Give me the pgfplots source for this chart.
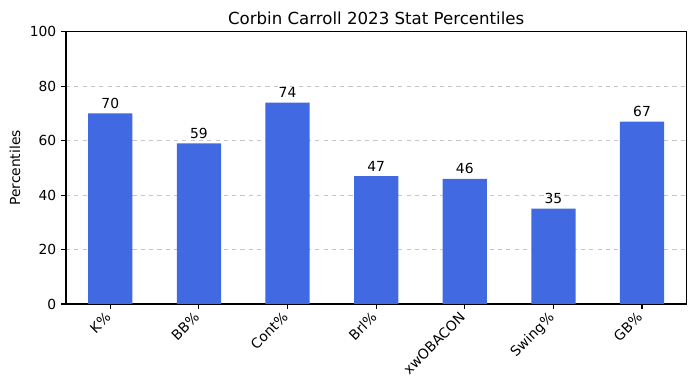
\documentclass[border=0pt]{standalone}
\usepackage{pgfplots}
\pgfplotsset{compat=1.18}
\usepackage{fontspec}
\setmainfont{DejaVu Sans}
\definecolor{royalblue}{RGB}{65,105,225}
\begin{document}
\begin{tikzpicture}[x=0.01in,y=0.01in]
\useasboundingbox (-66,-86) rectangle (629,304);
\begin{axis}[at={(0,0)}, anchor=south west, scale only axis,
  width=6.2in, height=2.72in,
  xmin=-0.5, xmax=6.5, ymin=0, ymax=100,
  ybar, bar width=0.5, bar shift=0pt,
  xtick={0,1,2,3,4,5,6},
  xticklabels={K\%,BB\%,Cont\%,Brl\%,xwOBACON,Swing\%,GB\%},
  x tick label style={xshift=-0.06in, rotate=45, anchor=north east, inner sep=1pt, font=\fontsize{10}{12}\selectfont},
  y tick label style={font=\fontsize{10}{12}\selectfont},
  ytick={0,20,40,60,80,100},
  ymajorgrids, grid style={dashed, black!22, line width=0.6pt},
  tick align=outside, tick pos=left, major tick length=3.5pt,
  tick style={black, line width=0.8pt},
  axis line style={line width=0.8pt},
  /pgf/number format/assume math mode=true,
  nodes near coords,
  nodes near coords style={font=\fontsize{10}{12}\selectfont, anchor=base, inner sep=0pt, yshift=3.5pt},
  every axis title/.style={font=\fontsize{12}{14}\selectfont, at={(0.5,1)}, anchor=base, inner sep=0pt, yshift=5pt},
  title={Corbin Carroll 2023 Stat Percentiles},
  ylabel={Percentiles},
  ylabel style={font=\fontsize{10}{12}\selectfont},
]
\addplot[fill=royalblue, draw=none] coordinates {(0,70) (1,59) (2,74) (3,47) (4,46) (5,35) (6,67)};
\end{axis}
\end{tikzpicture}
\end{document}
